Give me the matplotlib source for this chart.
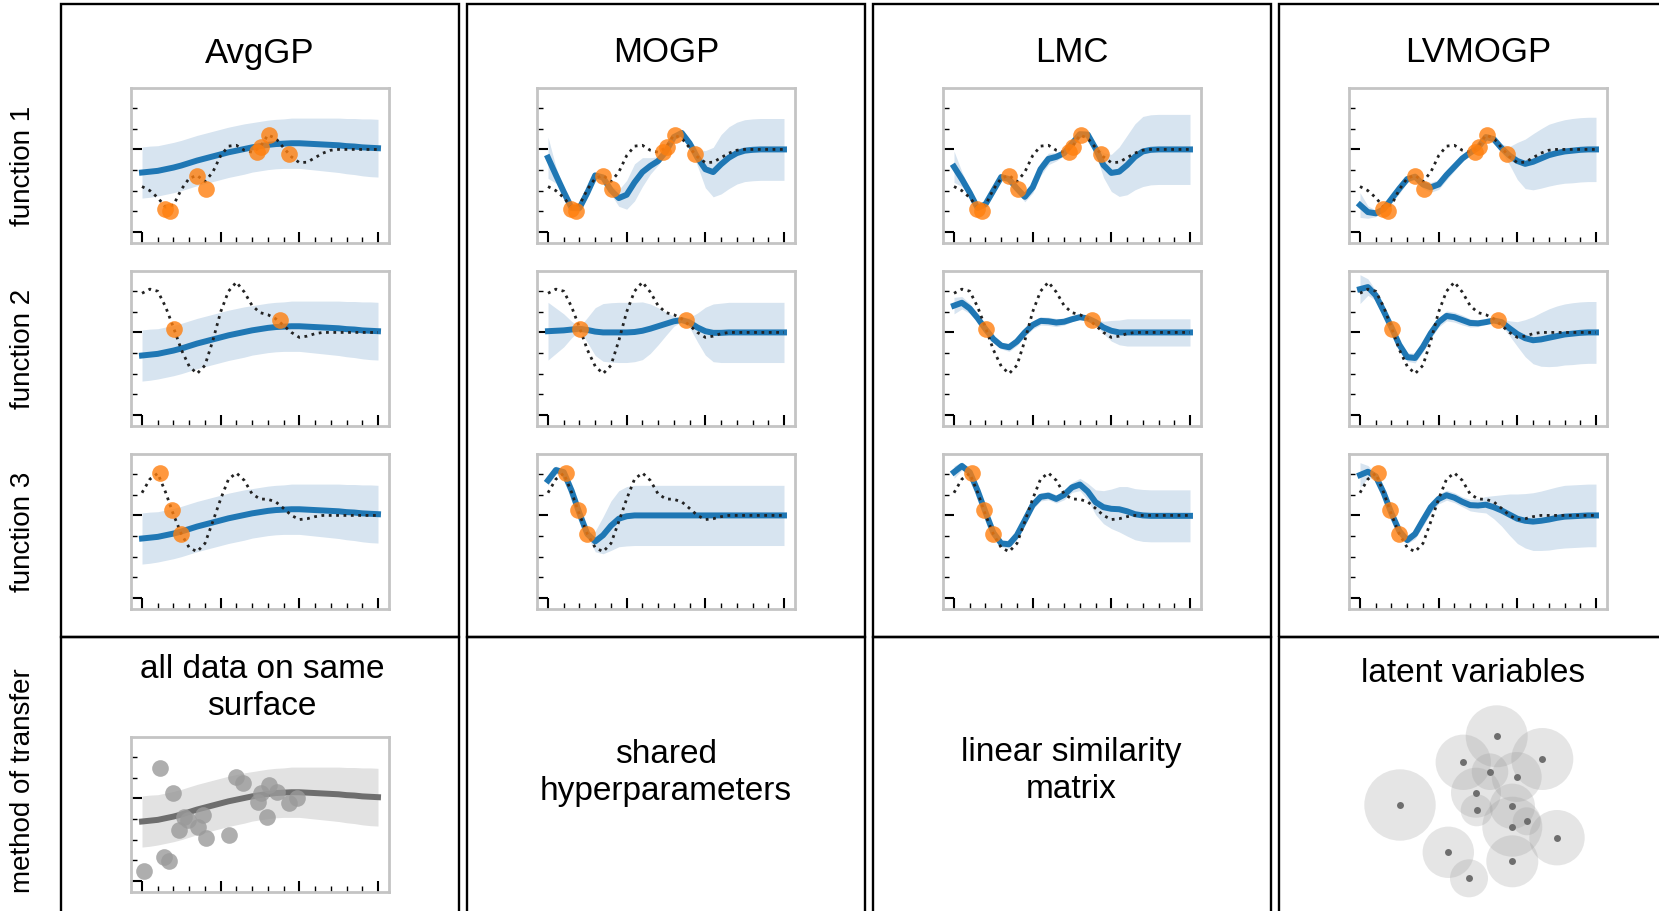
"""
Recreacion de la figura comparativa de modelos GP multi-salida
(AvgGP, MOGP, LMC, LVMOGP) con las tres funciones y el metodo de
transferencia en la fila de abajo.
"""

import matplotlib
matplotlib.use("Agg")
import matplotlib.pyplot as plt
from matplotlib.patches import Rectangle, Circle
from matplotlib.ticker import MultipleLocator

plt.rcParams["font.family"] = ["Liberation Sans", "DejaVu Sans"]

W, H = 1659, 912  # tamano final en pixeles

# ----------------------------------------------------------------------
# DATOS
# ----------------------------------------------------------------------
X = [0.0, 0.1, 0.2, 0.3, 0.4, 0.5, 0.6, 0.7, 0.8, 0.9, 1.0,
     1.1, 1.2, 1.3, 1.4, 1.5, 1.6, 1.7, 1.8, 1.9, 2.0,
     2.1, 2.2, 2.3, 2.4, 2.5, 2.6, 2.7, 2.8, 2.9, 3.0]

# funciones verdaderas (linea punteada)
TRUE_F1 = [-0.90, -1.00, -1.17, -1.40, -1.35, -0.97, -0.70, -0.63, -0.78, -0.55, -0.15,
           0.08, 0.10, -0.02, -0.07, 0.05, 0.35, 0.27, 0.04, -0.18, -0.32,
           -0.31, -0.20, -0.09, -0.02, 0.0, 0.0, 0.0, 0.0, 0.0, 0.0]
TRUE_F2 = [0.95, 1.05, 1.00, 0.62, 0.12, -0.42, -0.82, -1.00, -0.80, -0.20, 0.50,
           1.00, 1.22, 0.98, 0.65, 0.48, 0.43, 0.33, 0.17, 0.00, -0.12,
           -0.09, -0.03, 0.0, 0.0, 0.0, 0.0, 0.0, 0.0, 0.0, 0.0]
TRUE_F3 = [0.55, 0.88, 1.02, 0.56, 0.02, -0.45, -0.78, -0.88, -0.68, -0.15, 0.40,
           0.88, 1.03, 0.85, 0.52, 0.40, 0.39, 0.33, 0.17, 0.00, -0.10,
           -0.08, -0.03, 0.0, 0.0, 0.0, 0.0, 0.0, 0.0, 0.0, 0.0]

# observaciones (puntos naranjas)
OBS_X_F1 = [0.29, 0.35, 0.70, 0.81, 1.46, 1.51, 1.62, 1.87]
OBS_Y_F1 = [-1.44, -1.50, -0.65, -0.95, -0.06, 0.06, 0.36, -0.10]
OBS_X_F2 = [0.41, 1.75]
OBS_Y_F2 = [0.09, 0.31]
OBS_X_F3 = [0.23, 0.38, 0.50]
OBS_Y_F3 = [1.02, 0.13, -0.45]

# AvgGP: la misma prediccion para las tres funciones
AVGGP_MEAN = [-0.56, -0.54, -0.52, -0.48, -0.44, -0.39, -0.33, -0.27, -0.22, -0.17, -0.12,
              -0.07, -0.03, 0.01, 0.05, 0.08, 0.11, 0.13, 0.14, 0.15, 0.15,
              0.14, 0.13, 0.12, 0.11, 0.10, 0.08, 0.07, 0.05, 0.04, 0.03]
AVGGP_SD = [0.62, 0.62, 0.61, 0.61, 0.61, 0.61, 0.61, 0.61, 0.61, 0.61, 0.61,
            0.61, 0.61, 0.61, 0.60, 0.60, 0.60, 0.60, 0.60, 0.61, 0.61,
            0.62, 0.63, 0.64, 0.65, 0.66, 0.67, 0.68, 0.69, 0.70, 0.70]

MOGP_MEAN = [
    [-0.20, -0.62, -1.03, -1.42, -1.42, -1.05, -0.63, -0.68, -0.99, -1.18, -1.10,
     -0.80, -0.55, -0.40, -0.28, -0.05, 0.30, 0.40, 0.15, -0.20, -0.48,
     -0.55, -0.36, -0.20, -0.09, -0.03, -0.01, 0.0, 0.0, 0.0, 0.0],
    [0.03, 0.04, 0.05, 0.07, 0.09, 0.06, 0.02, 0.0, 0.0, 0.0, 0.0,
     0.01, 0.04, 0.09, 0.15, 0.21, 0.27, 0.30, 0.24, 0.12, 0.03,
     -0.01, -0.01, 0.0, 0.0, 0.0, 0.0, 0.0, 0.0, 0.0, 0.0],
    [0.85, 1.10, 1.05, 0.60, 0.05, -0.45, -0.63, -0.48, -0.25, -0.08, -0.02,
     0.0, 0.0, 0.0, 0.0, 0.0, 0.0, 0.0, 0.0, 0.0, 0.0,
     0.0, 0.0, 0.0, 0.0, 0.0, 0.0, 0.0, 0.0, 0.0, 0.0],
]
MOGP_SD = [
    [0.50, 0.20, 0.08, 0.06, 0.10, 0.12, 0.08, 0.06, 0.10, 0.20, 0.35,
     0.45, 0.35, 0.20, 0.10, 0.05, 0.04, 0.05, 0.08, 0.20, 0.45,
     0.60, 0.72, 0.75, 0.75, 0.75, 0.75, 0.75, 0.75, 0.75, 0.75],
    [0.70, 0.55, 0.40, 0.20, 0.04, 0.30, 0.58, 0.70, 0.72, 0.73, 0.73,
     0.72, 0.70, 0.60, 0.45, 0.28, 0.12, 0.04, 0.12, 0.35, 0.58,
     0.70, 0.72, 0.73, 0.73, 0.73, 0.73, 0.73, 0.73, 0.73, 0.73],
    [0.12, 0.10, 0.04, 0.05, 0.05, 0.05, 0.25, 0.45, 0.60, 0.68, 0.72,
     0.73, 0.73, 0.73, 0.73, 0.73, 0.73, 0.73, 0.73, 0.73, 0.73,
     0.73, 0.73, 0.73, 0.73, 0.73, 0.73, 0.73, 0.73, 0.73, 0.73],
]

LMC_MEAN = [
    [-0.42, -0.72, -1.05, -1.42, -1.33, -1.00, -0.67, -0.72, -0.95, -1.15, -0.92,
     -0.48, -0.23, -0.18, -0.09, 0.14, 0.37, 0.36, 0.02, -0.38, -0.57,
     -0.54, -0.38, -0.18, -0.05, -0.01, 0.0, 0.0, 0.0, 0.0, 0.0],
    [0.65, 0.72, 0.58, 0.35, 0.08, -0.16, -0.32, -0.36, -0.22, 0.00, 0.18,
     0.28, 0.27, 0.24, 0.26, 0.32, 0.37, 0.34, 0.25, 0.12, 0.04,
     0.0, 0.0, 0.0, 0.0, 0.0, 0.0, 0.0, 0.0, 0.0, 0.0],
    [1.05, 1.20, 1.05, 0.60, 0.08, -0.42, -0.68, -0.70, -0.48, -0.12, 0.25,
     0.45, 0.48, 0.40, 0.50, 0.68, 0.75, 0.58, 0.32, 0.20, 0.16,
     0.15, 0.10, 0.03, 0.0, -0.01, -0.01, -0.01, -0.01, -0.01, -0.01],
]
LMC_SD = [
    [0.38, 0.18, 0.08, 0.05, 0.08, 0.10, 0.06, 0.05, 0.08, 0.12, 0.14,
     0.16, 0.14, 0.10, 0.06, 0.05, 0.05, 0.08, 0.12, 0.30, 0.45,
     0.60, 0.72, 0.80, 0.85, 0.85, 0.85, 0.85, 0.85, 0.85, 0.85],
    [0.20, 0.15, 0.12, 0.08, 0.04, 0.06, 0.08, 0.10, 0.10, 0.10, 0.10,
     0.10, 0.10, 0.10, 0.08, 0.06, 0.04, 0.03, 0.06, 0.15, 0.25,
     0.30, 0.33, 0.33, 0.33, 0.33, 0.33, 0.33, 0.33, 0.33, 0.33],
    [0.15, 0.10, 0.05, 0.06, 0.05, 0.05, 0.08, 0.10, 0.10, 0.10, 0.10,
     0.10, 0.10, 0.10, 0.12, 0.12, 0.15, 0.20, 0.30, 0.40, 0.48,
     0.55, 0.60, 0.62, 0.63, 0.63, 0.63, 0.63, 0.63, 0.63, 0.63],
]

LVMOGP_MEAN = [
    [-1.35, -1.52, -1.55, -1.45, -1.20, -0.95, -0.72, -0.66, -0.85, -0.92, -0.85,
     -0.62, -0.42, -0.22, -0.08, 0.04, 0.30, 0.25, 0.03, -0.15, -0.28,
     -0.35, -0.30, -0.22, -0.14, -0.09, -0.05, -0.03, -0.01, 0.0, 0.0],
    [1.05, 1.10, 0.90, 0.52, 0.12, -0.30, -0.60, -0.62, -0.35, -0.02, 0.25,
     0.40, 0.37, 0.30, 0.23, 0.22, 0.25, 0.29, 0.25, 0.10, -0.04,
     -0.14, -0.19, -0.17, -0.13, -0.09, -0.05, -0.03, -0.01, 0.0, 0.0],
    [0.98, 1.06, 0.95, 0.55, 0.05, -0.38, -0.60, -0.45, -0.12, 0.20, 0.40,
     0.49, 0.43, 0.33, 0.25, 0.24, 0.26, 0.20, 0.12, 0.02, -0.08,
     -0.13, -0.15, -0.13, -0.10, -0.06, -0.03, -0.02, -0.01, 0.0, 0.0],
]
LVMOGP_SD = [
    [0.30, 0.15, 0.08, 0.06, 0.10, 0.12, 0.08, 0.06, 0.10, 0.12, 0.12,
     0.12, 0.10, 0.08, 0.06, 0.05, 0.05, 0.06, 0.10, 0.22, 0.45,
     0.60, 0.68, 0.72, 0.75, 0.76, 0.77, 0.78, 0.78, 0.78, 0.78],
    [0.35, 0.20, 0.12, 0.08, 0.05, 0.08, 0.10, 0.12, 0.12, 0.12, 0.12,
     0.12, 0.12, 0.12, 0.10, 0.08, 0.05, 0.04, 0.08, 0.18, 0.30,
     0.45, 0.57, 0.65, 0.70, 0.73, 0.74, 0.75, 0.75, 0.75, 0.75],
    [0.30, 0.15, 0.06, 0.06, 0.05, 0.05, 0.08, 0.12, 0.14, 0.14, 0.12,
     0.12, 0.12, 0.12, 0.14, 0.16, 0.20, 0.28, 0.38, 0.50, 0.60,
     0.66, 0.70, 0.72, 0.74, 0.75, 0.76, 0.76, 0.76, 0.76, 0.76],
]

# todos los datos juntos (panel gris de AvgGP)
ALL_X = [0.03, 0.23, 0.28, 0.34, 0.40, 0.47, 0.53, 0.59, 0.71, 0.78, 0.81,
         1.10, 1.19, 1.29, 1.48, 1.51, 1.59, 1.61, 1.72, 1.87, 1.97]
ALL_Y = [-1.75, 0.74, -1.41, -1.51, 0.14, -0.77, -0.44, -0.52, -0.69, -0.40, -0.97,
         -0.89, 0.52, 0.38, -0.08, 0.12, -0.44, 0.32, 0.16, -0.10, 0.02]

# variables latentes (centro y radio)
LATENT_X = [6.0, 15.67, 20.23, 12.33, 15.0, 17.67, 13.6, 13.67, 17.23, 17.23,
            18.67, 21.7, 10.83, 17.23, 12.9]
LATENT_Y = [10.6, 17.47, 15.2, 14.87, 13.93, 13.4, 11.83, 10.07, 10.47, 8.43,
            8.97, 7.33, 5.87, 4.97, 3.27]
LATENT_R = [3.57, 3.1, 3.1, 2.77, 1.83, 2.5, 2.5, 1.6, 2.27, 3.0,
            1.4, 2.77, 2.57, 2.6, 1.9]

MODELOS = ["AvgGP", "MOGP", "LMC", "LVMOGP"]
FILAS = ["function 1", "function 2", "function 3"]
TRANSFER = ["all data on same\nsurface", "shared\nhyperparameters",
            "linear similarity\nmatrix", "latent variables"]

# ----------------------------------------------------------------------
# estilo
# ----------------------------------------------------------------------
AZUL = "#1f77b4"
BANDA = "#d7e4f0"
NARANJA = "#ff7f0e"
GRIS_MARCO = "#c4c4c4"

fig = plt.figure(figsize=(W / 100, H / 100), dpi=100)


def ejes_px(left, top, w, h):
    """Crea unos ejes usando coordenadas en pixeles (origen arriba a la izq)."""
    return fig.add_axes([left / W, 1 - (top + h) / H, w / W, h / H])


def caja_px(left, top, w, h):
    fig.add_artist(Rectangle((left / W, 1 - (top + h) / H), w / W, h / H,
                             transform=fig.transFigure, fill=False,
                             ec="black", lw=1.7, clip_on=False))


def preparar_ejes(ax):
    ax.set_xlim(-0.14, 3.14)
    ax.set_ylim(-2.27, 1.49)
    ax.xaxis.set_major_locator(MultipleLocator(1))
    ax.xaxis.set_minor_locator(MultipleLocator(0.2))
    ax.yaxis.set_major_locator(MultipleLocator(2))
    ax.yaxis.set_minor_locator(MultipleLocator(0.5))
    ax.tick_params(which="both", direction="in", labelbottom=False,
                   labelleft=False, top=False, right=False, colors="black")
    ax.tick_params(which="major", length=8, width=1.5)
    ax.tick_params(which="minor", length=4, width=1.0)
    for s in ax.spines.values():
        s.set_color(GRIS_MARCO)
        s.set_linewidth(2)


def graficar_gp(ax, media, sd, verdad=None, ox=None, oy=None,
                color=AZUL, banda=BANDA, color_pts=NARANJA):
    lo = [m - s for m, s in zip(media, sd)]
    hi = [m + s for m, s in zip(media, sd)]
    ax.fill_between(X, lo, hi, color=banda, lw=0, zorder=1)
    ax.plot(X, media, color=color, lw=4.3, zorder=2)
    if verdad is not None:
        ax.plot(X, verdad, ":", color="#222222", lw=2, zorder=3)
    if ox is not None:
        ax.plot(ox, oy, "o", color=color_pts, alpha=0.8, ms=12,
                mec="none", zorder=4)
    preparar_ejes(ax)


# ----------------------------------------------------------------------
# cajas negras de cada columna
# ----------------------------------------------------------------------
for i in range(4):
    caja_px(61 + 406 * i, 5, 398, 633)
    caja_px(61 + 406 * i, 638, 398, 500)

# etiquetas de filas
for j, texto in enumerate(FILAS):
    fig.text(23 / W, 1 - (166 + 183 * j) / H, texto, rotation=90,
             ha="center", va="center", fontsize=20)
fig.text(23 / W, 1 - 781 / H, "method of transfer", rotation=90,
         ha="center", va="center", fontsize=20)

# titulos
for i, nombre in enumerate(MODELOS):
    fig.text((260 + 406 * i) / W, 1 - 53 / H, nombre, ha="center",
             va="center", fontsize=25)

# ----------------------------------------------------------------------
# paneles de las tres funciones
# ----------------------------------------------------------------------
verdades = [TRUE_F1, TRUE_F2, TRUE_F3]
obs_x = [OBS_X_F1, OBS_X_F2, OBS_X_F3]
obs_y = [OBS_Y_F1, OBS_Y_F2, OBS_Y_F3]
medias = {
    "AvgGP": [AVGGP_MEAN] * 3,
    "MOGP": MOGP_MEAN,
    "LMC": LMC_MEAN,
    "LVMOGP": LVMOGP_MEAN,
}
sds = {
    "AvgGP": [AVGGP_SD] * 3,
    "MOGP": MOGP_SD,
    "LMC": LMC_SD,
    "LVMOGP": LVMOGP_SD,
}

for i, nombre in enumerate(MODELOS):
    for j in range(3):
        ax = ejes_px(131 + 406 * i, 89 + 183 * j, 258, 155)
        graficar_gp(ax, medias[nombre][j], sds[nombre][j], verdades[j],
                    obs_x[j], obs_y[j])

# ----------------------------------------------------------------------
# fila de abajo: metodo de transferencia
# ----------------------------------------------------------------------
fig.text(262 / W, 1 - 688 / H, TRANSFER[0], ha="center", va="center",
         fontsize=24, linespacing=1.25)
fig.text(666 / W, 1 - 773 / H, TRANSFER[1], ha="center", va="center",
         fontsize=24, linespacing=1.25)
fig.text(1071 / W, 1 - 771 / H, TRANSFER[2], ha="center", va="center",
         fontsize=24, linespacing=1.25)
fig.text(1473 / W, 1 - 674 / H, TRANSFER[3], ha="center", va="center",
         fontsize=24)

ax_todo = ejes_px(131, 738, 258, 155)
graficar_gp(ax_todo, AVGGP_MEAN, AVGGP_SD, None, ALL_X, ALL_Y,
            color="#6e6e6e", banda="#e2e2e2", color_pts="#9a9a9a")

# variables latentes
ax_lat = ejes_px(1340, 690, 300, 222)
ax_lat.set_xlim(0, 30)
ax_lat.set_ylim(0, 22.2)
ax_lat.axis("off")
for cx, cy, r in zip(LATENT_X, LATENT_Y, LATENT_R):
    ax_lat.add_patch(Circle((cx, cy), r, facecolor="#999999", alpha=0.25,
                            edgecolor="none"))
ax_lat.plot(LATENT_X, LATENT_Y, "o", color="#6e6e6e", ms=5, mec="none")

fig.savefig("out.png", dpi=100)
print("Listo!")
